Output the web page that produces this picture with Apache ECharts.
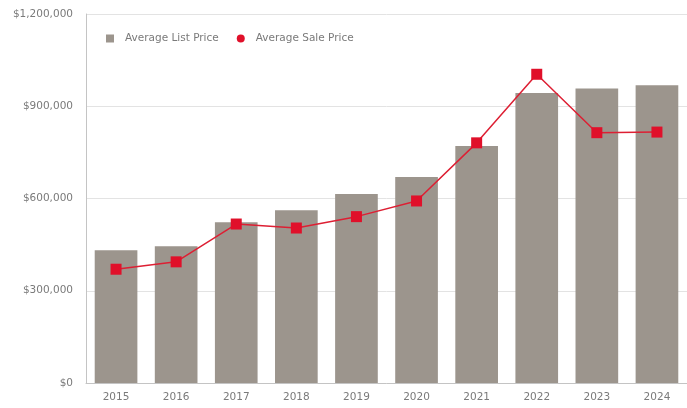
<!DOCTYPE html>
<html><head><meta charset="utf-8">
<script src="https://cdn.jsdelivr.net/npm/echarts@6/dist/echarts.min.js"></script>
<style>html,body{margin:0;padding:0;background:#fff}#c{width:687px;height:408px}</style>
</head><body><div id="c"></div>
<script>
const years = ['2015','2016','2017','2018','2019','2020','2021','2022','2023','2024'];
const listPrice = [432000, 445000, 523000, 562000, 615000, 670000, 771000, 943000, 958000, 968000];
const salePrice = [370000, 394000, 517000, 504000, 541000, 592000, 781000, 1004000, 814000, 816000];
const yTicks = [0, 300000, 600000, 900000, 1200000];

const chart = echarts.init(document.getElementById('c'));
const font = '"DejaVu Sans", sans-serif';
chart.setOption({
  animation: false,
  textStyle: {fontFamily: font},
  grid: {left: 86, right: -7, top: 14, bottom: 25, containLabel: false},
  legend: {
    left: 101, top: 28, itemGap: 18, itemWidth: 8, itemHeight: 8,
    textStyle: {fontSize: 10.5, color: '#7a7a7a', fontFamily: font, padding: [0, 0, 0, 6]},
    data: [
      {name: 'Average List Price', icon: 'rect', itemStyle: {color: '#9c958d'}},
      {name: 'Average Sale Price', icon: 'circle', itemStyle: {color: '#e0102a'}}
    ]
  },
  xAxis: {
    type: 'category', data: years,
    axisLine: {lineStyle: {color: '#c4c4c4', width: 1}},
    axisTick: {show: false},
    axisLabel: {fontSize: 10.5, color: '#7a7a7a', margin: 9}
  },
  yAxis: {
    type: 'value', min: 0, max: 1200000, interval: 300000,
    axisLine: {show: true, lineStyle: {color: '#c4c4c4'}},
    axisTick: {show: false},
    splitLine: {lineStyle: {color: '#e3e3e3'}},
    axisLabel: {
      fontSize: 10.5, color: '#7a7a7a', margin: 13,
      formatter: v => yTicks.includes(v) ? '$' + v.toLocaleString('en-US') : ''
    }
  },
  series: [
    {
      name: 'Average List Price', type: 'bar', data: listPrice,
      barCategoryGap: '29%',
      itemStyle: {color: '#9c958d'}
    },
    {
      name: 'Average Sale Price', type: 'line', data: salePrice,
      symbol: 'rect', symbolSize: 11,
      lineStyle: {color: '#dd1f33', width: 1.5},
      itemStyle: {color: '#e0102a'}
    }
  ]
});
</script></body></html>
